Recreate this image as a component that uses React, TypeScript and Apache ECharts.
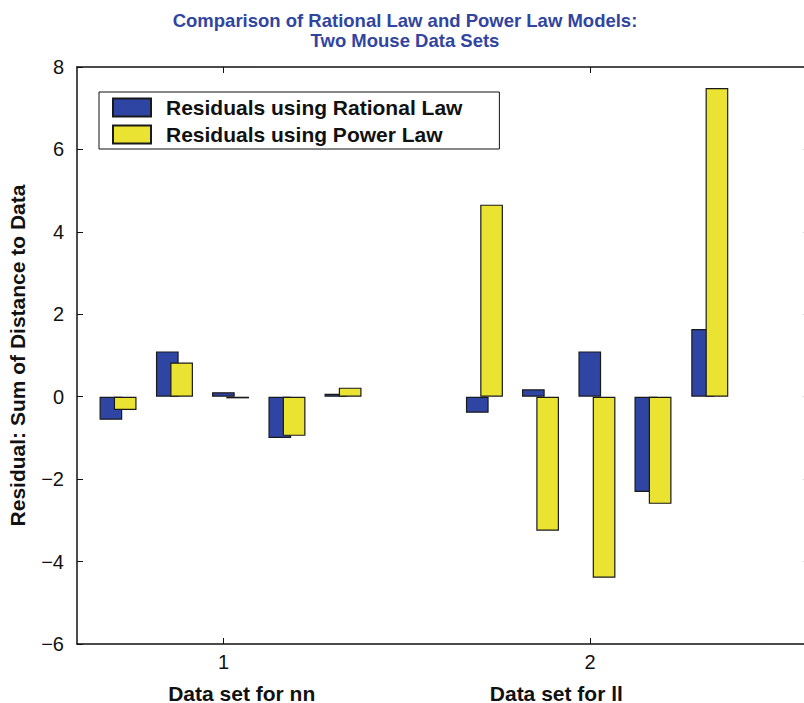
import React, { useEffect, useRef } from "react";
import * as echarts from "echarts";

const groupXNN = [0.712, 0.866, 1.019, 1.173, 1.326];
const groupXLL = [1.712, 1.865, 2.019, 2.172, 2.327];
const rationalNN = [-0.56, 1.1, 0.11, -1.0, 0.07];
const powerNN = [-0.32, 0.83, -0.04, -0.95, 0.22];
const rationalLL = [-0.39, 0.18, 1.1, -2.31, 1.64];
const powerLL = [4.66, -3.25, -4.39, -2.6, 7.49];
const xTickValues = [1, 2];
const seriesNames = ["Residuals using Rational Law", "Residuals using Power Law"];
const dataSetLabels = ["Data set for nn", "Data set for ll"];

const FONT = "'Liberation Sans', Arial, Helvetica, sans-serif";
const BLUE = "#2f45a3";
const YELLOW = "#ebe331";
const INK = "#111";

function pairs(xs: number[], ys: number[]) {
  return xs.map((x, i) => [x, ys[i]]);
}

export default function App() {
  const ref = useRef<HTMLDivElement>(null);
  useEffect(() => {
    if (!ref.current) return;
    const chart = echarts.init(ref.current, null, { renderer: "svg" });
    const axisLine = { show: true, onZero: false, lineStyle: { color: INK, width: 1.5 } };
    const tickStyle = { color: INK, width: 1 };
    const option: any = {
      animation: false,
      backgroundColor: "#fff",
      title: {
        text: "Comparison of Rational Law and Power Law Models:\nTwo Mouse Data Sets",
        left: 405,
        top: 10,
        padding: 0,
        textAlign: "center",
        textStyle: {
          color: "#3145a0",
          fontFamily: FONT,
          fontWeight: "bold",
          fontSize: 18.5,
          lineHeight: 20,
        },
      },
      legend: {
        orient: "vertical",
        left: 99,
        top: 92,
        padding: [5, 37, 4, 13],
        itemWidth: 38,
        itemHeight: 18,
        itemGap: 6,
        icon: "rect",
        selectedMode: false,
        backgroundColor: "#fff",
        borderColor: INK,
        borderWidth: 1,
        borderRadius: 0,
        textStyle: {
          color: INK,
          fontFamily: FONT,
          fontWeight: "bold",
          fontSize: 21,
          padding: [0, 0, 0, 10],
        },
        data: seriesNames,
      },
      grid: {
        left: 77,
        top: 67,
        width: 732.8,
        height: 577,
        outerBoundsMode: "none",
        containLabel: false,
      },
      xAxis: [
        {
          type: "value",
          position: "bottom",
          min: 0.6,
          max: 2.6,
          axisLine,
          splitLine: { show: false },
          axisTick: { show: true, inside: true, length: 6, customValues: xTickValues, lineStyle: tickStyle },
          axisLabel: {
            customValues: xTickValues,
            color: INK,
            fontFamily: FONT,
            fontSize: 20,
            margin: 8,
          },
        },
        {
          type: "value",
          position: "top",
          min: 0.6,
          max: 2.6,
          axisLine,
          splitLine: { show: false },
          axisTick: { show: true, inside: true, length: 6, customValues: xTickValues, lineStyle: tickStyle },
          axisLabel: { show: false },
        },
      ],
      yAxis: [
        {
          type: "value",
          position: "left",
          min: -6,
          max: 8,
          interval: 2,
          name: "Residual: Sum of Distance to Data",
          nameLocation: "middle",
          nameGap: 49,
          nameTextStyle: { color: INK, fontFamily: FONT, fontWeight: "bold", fontSize: 21 },
          axisLine,
          splitLine: { show: false },
          axisTick: { show: true, inside: true, length: 6, lineStyle: tickStyle },
          axisLabel: {
            color: INK,
            fontFamily: FONT,
            fontSize: 20,
            margin: 13,
            formatter: (v: number) => String(v).replace("-", "\u2212"),
          },
        },
        {
          type: "value",
          position: "right",
          min: -6,
          max: 8,
          interval: 2,
          axisLine,
          splitLine: { show: false },
          axisTick: { show: true, inside: true, length: 6, lineStyle: tickStyle },
          axisLabel: { show: false },
        },
      ],
      series: [
        {
          name: seriesNames[0],
          type: "bar",
          xAxisIndex: 0,
          yAxisIndex: 0,
          barWidth: 22.7,
          barGap: "-37%",
          itemStyle: { color: BLUE, borderColor: "#1a1a1a", borderWidth: 1.2 },
          data: [...pairs(groupXNN, rationalNN), ...pairs(groupXLL, rationalLL)],
        },
        {
          name: seriesNames[1],
          type: "bar",
          xAxisIndex: 0,
          yAxisIndex: 0,
          barWidth: 22.7,
          barGap: "-37%",
          itemStyle: { color: YELLOW, borderColor: "#1a1a1a", borderWidth: 1.2 },
          data: [...pairs(groupXNN, powerNN), ...pairs(groupXLL, powerLL)],
        },
      ],
      graphic: [
        {
          type: "text",
          x: 241.7,
          y: 693,
          style: {
            text: dataSetLabels[0],
            fill: INK,
            font: `bold 21px ${FONT}`,
            textAlign: "center",
            textVerticalAlign: "middle",
          },
        },
        {
          type: "text",
          x: 556.3,
          y: 693,
          style: {
            text: dataSetLabels[1],
            fill: INK,
            font: `bold 21px ${FONT}`,
            textAlign: "center",
            textVerticalAlign: "middle",
          },
        },
      ],
    };
    chart.setOption(option);
    return () => chart.dispose();
  }, []);
  return (
    <div
      ref={ref}
      style={{ position: "fixed", left: 0, top: 0, width: 820, height: 703, background: "#fff" }}
    />
  );
}
